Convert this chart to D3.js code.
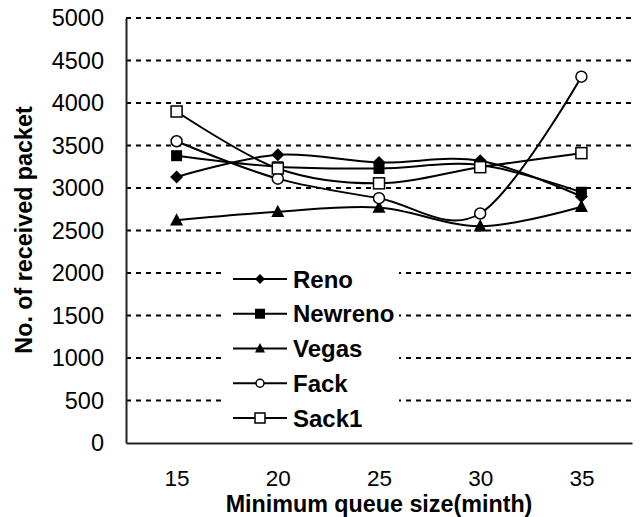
<!DOCTYPE html>
<html>
<head>
<meta charset="utf-8">
<script src="https://cdn.jsdelivr.net/npm/d3@7/dist/d3.min.js"></script>
<style>
    html, body { margin: 0; padding: 0; background: #fff; }
    svg { display: block; font-family: "Liberation Sans", Arial, sans-serif; }
</style>
</head>
<body>
<div id="chart"></div>
<script>
// values
var categories = ['15', '20', '25', '30', '35'];
var yTicks = [0, 500, 1000, 1500, 2000, 2500, 3000, 3500, 4000, 4500, 5000];

var reno    = [3130, 3390, 3300, 3320, 2900];
var newreno = [3380, 3250, 3230, 3270, 2950];
var vegas   = [2620, 2720, 2770, 2550, 2780];
var fack    = [3550, 3110, 2880, 2700, 4310];
var sack1   = [3900, 3230, 3055, 3245, 3410];

var seriesNames = ['Reno', 'Newreno', 'Vegas', 'Fack', 'Sack1'];
var seriesValues = [reno, newreno, vegas, fack, sack1];
var seriesMarks = ['diamond', 'square', 'triangle', 'circle', 'openSquare'];

var width = 643,
    height = 517,
    plotLeft = 126,
    plotRight = 632,
    plotTop = 18,
    plotBottom = 443;

var svg = d3.select('#chart').append('svg')
    .attr('width', width)
    .attr('height', height);

var x = d3.scalePoint()
    .domain(categories)
    .range([plotLeft, plotRight])
    .padding(0.5);

var y = d3.scaleLinear()
    .domain([0, 5000])
    .range([plotBottom, plotTop]);

// dashed grid lines
svg.append('g')
    .selectAll('line')
    .data(yTicks.filter(function(d) { return d > 0; }))
    .enter().append('line')
    .attr('x1', plotLeft)
    .attr('x2', plotRight)
    .attr('y1', function(d) { return y(d); })
    .attr('y2', function(d) { return y(d); })
    .attr('stroke', '#000')
    .attr('stroke-width', 2)
    .attr('stroke-dasharray', '5,5');

// axes
var yAxis = svg.append('g')
    .attr('transform', 'translate(' + plotLeft + ',0)')
    .call(d3.axisLeft(y).tickValues(yTicks).tickSize(0).tickPadding(22).tickFormat(d3.format('d')));

yAxis.select('.domain').attr('stroke', '#222').attr('stroke-width', 2);
yAxis.selectAll('text').attr('font-size', 23.5).attr('fill', '#000');

var xAxis = svg.append('g')
    .attr('transform', 'translate(0,' + plotBottom + ')')
    .call(d3.axisBottom(x).tickSize(0).tickPadding(27));

xAxis.select('.domain').attr('stroke', '#222').attr('stroke-width', 2);
xAxis.selectAll('text').attr('font-size', 22.5).attr('fill', '#000');

// axis titles
svg.append('text')
    .attr('x', (plotLeft + plotRight) / 2)
    .attr('y', 512)
    .attr('text-anchor', 'middle')
    .attr('font-size', 23.3)
    .attr('font-weight', 'bold')
    .text('Minimum queue size(minth)');

svg.append('text')
    .attr('transform', 'translate(32,230) rotate(-90)')
    .attr('text-anchor', 'middle')
    .attr('font-size', 23.3)
    .attr('font-weight', 'bold')
    .text('No. of received packet');

function drawMark(g, kind, s) {
    if (kind === 'circle') {
        g.append('circle').attr('r', s / 2)
            .attr('fill', '#fff').attr('stroke', '#000').attr('stroke-width', 1.5);
    } else if (kind === 'openSquare') {
        g.append('rect').attr('x', -s / 2).attr('y', -s / 2).attr('width', s).attr('height', s)
            .attr('fill', '#fff').attr('stroke', '#000').attr('stroke-width', 1.5);
    } else if (kind === 'square') {
        g.append('rect').attr('x', -s / 2).attr('y', -s / 2).attr('width', s).attr('height', s)
            .attr('fill', '#000');
    } else if (kind === 'diamond') {
        g.append('path').attr('d', 'M0,' + (-s / 2) + 'L' + (s / 2) + ',0L0,' + (s / 2) + 'L' + (-s / 2) + ',0Z')
            .attr('fill', '#000');
    } else {
        g.append('path').attr('d', 'M0,' + (-s * 0.55) + 'L' + (s / 2) + ',' + (s * 0.4) + 'L' + (-s / 2) + ',' + (s * 0.4) + 'Z')
            .attr('fill', '#000');
    }
}

var markSize = { diamond: 13, square: 11, triangle: 13, circle: 11, openSquare: 11 };

var line = d3.line()
    .x(function(d, i) { return x(categories[i]); })
    .y(function(d) { return y(d); })
    .curve(d3.curveCatmullRom.alpha(0));

var series = svg.append('g')
    .selectAll('g')
    .data(seriesValues)
    .enter().append('g');

series.append('path')
    .attr('d', function(d) { return line(d); })
    .attr('fill', 'none')
    .attr('stroke', '#000')
    .attr('stroke-width', 2);

series.each(function(vals, k) {
    var g = d3.select(this);
    vals.forEach(function(v, i) {
        var m = g.append('g').attr('transform', 'translate(' + x(categories[i]) + ',' + y(v) + ')');
        drawMark(m, seriesMarks[k], markSize[seriesMarks[k]]);
    });
});

// legend
var legend = svg.append('g');

legend.append('rect')
    .attr('x', 222)
    .attr('y', 263)
    .attr('width', 177)
    .attr('height', 175)
    .attr('fill', '#fff');

var rows = legend.selectAll('g.row')
    .data(seriesNames)
    .enter().append('g')
    .attr('class', 'row')
    .attr('transform', function(d, i) { return 'translate(0,' + (279 + i * 34.75) + ')'; });

rows.append('line')
    .attr('x1', 233).attr('x2', 287)
    .attr('stroke', '#000').attr('stroke-width', 2);

rows.each(function(d, i) {
    var m = d3.select(this).append('g').attr('transform', 'translate(260,0)');
    drawMark(m, seriesMarks[i], seriesMarks[i] === 'circle' ? 8 : 10);
});

rows.append('text')
    .attr('x', 293)
    .attr('y', 8.5)
    .attr('font-size', 24)
    .attr('font-weight', 'bold')
    .text(function(d) { return d; });
</script>
</body>
</html>
